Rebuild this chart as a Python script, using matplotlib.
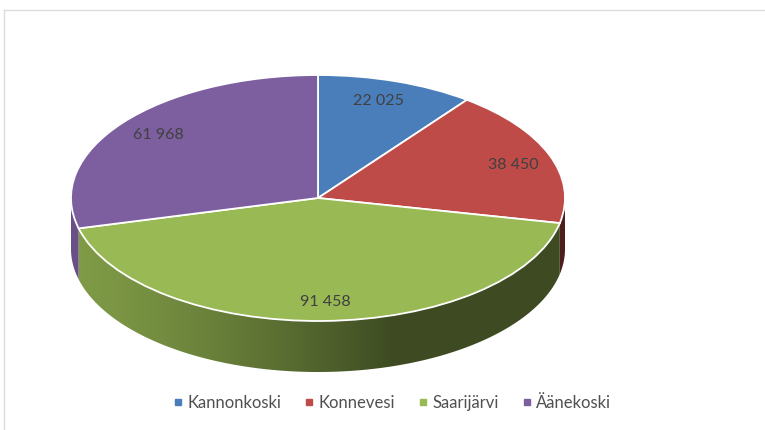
import numpy as np
import matplotlib
matplotlib.use("Agg")
import matplotlib.pyplot as plt
from matplotlib.colors import to_rgb
from matplotlib.lines import Line2D
from matplotlib.patches import Polygon

plt.rcParams['font.family'] = ['Lato', 'DejaVu Sans']

# Data
kunnat = ["Kannonkoski", "Konnevesi", "Saarijärvi", "Äänekoski"]
arvot = [22025, 38450, 91458, 61968]
arvo_tekstit = ["22 025", "38 450", "91 458", "61 968"]
varit = ["#4a7ebb", "#be4b48", "#98b954", "#7d5fa0"]

W, H = 765, 430
SYVYYS = 51 / 123  # side wall height relative to the top ellipse radius

fig = plt.figure(figsize=(W / 100, H / 100), dpi=100, facecolor="white")

# Axes box covers the ellipse plus the wall below it
ax = fig.add_axes([71 / W, 1 - 372 / H, 494 / W, 297 / H])

# Pie runs clockwise from the top
osuudet = np.array(arvot) / sum(arvot)
rajat = np.concatenate([[0], np.cumsum(osuudet)]) * 2 * np.pi

# Walls: only the front half of the rim shows, shaded left to right
xs = np.linspace(-1, 1, 500)
t = np.clip((xs + 1) / 1.3, 0, 1)[None, :, None] ** 1.3
for i, vari in enumerate(varit):
    alku = max(rajat[i], np.pi / 2)
    loppu = min(rajat[i + 1], 3 * np.pi / 2)
    if loppu <= alku:
        continue
    th = np.linspace(alku, loppu, 200)
    x = np.sin(th)
    y = np.cos(th)
    reuna = Polygon(np.concatenate([np.c_[x, y], np.c_[x[::-1], y[::-1] - SYVYYS]]),
                    closed=True, transform=ax.transData)
    rgb = np.array(to_rgb(vari))[None, None, :]
    kuva = rgb * 0.84 * (1 - t) + rgb * 0.41 * t
    im = ax.imshow(kuva, extent=(-1, 1, -1 - SYVYYS, 1), aspect="auto", zorder=1)
    im.set_clip_path(reuna)

ax.pie(arvot, colors=varit, startangle=90, counterclock=False, radius=1,
       wedgeprops={"edgecolor": "white", "linewidth": 1.3, "zorder": 2})
ax.set_aspect("auto")
ax.set_xlim(-1, 1)
ax.set_ylim(-1 - SYVYYS, 1)
ax.axis("off")

# Data labels
label_x = [378, 513, 325, 158]
label_y = [101, 165, 302, 135]
for x, y, s in zip(label_x, label_y, arvo_tekstit):
    fig.text(x / W, 1 - y / H, s, ha="center", va="center", fontsize=11.5, color="#404040")

# Legend
kahvat = [Line2D([], [], ls="none", marker="s", ms=4.2, color=v) for v in varit]
fig.legend(kahvat, kunnat, loc="center", bbox_to_anchor=(392.5 / W, 1 - 403 / H), ncol=4,
           frameon=False, fontsize=12, labelcolor="#505050", handlelength=0.5,
           handletextpad=0.3, columnspacing=1.45)

# Thin frame from the page
kehys = "#dcdcdc"
fig.add_artist(Line2D([4 / W, 1], [1 - 10 / H, 1 - 10 / H], color=kehys, lw=1))
fig.add_artist(Line2D([4 / W, 4 / W], [0, 1 - 10 / H], color=kehys, lw=1))

fig.savefig("out.png", dpi=100)
